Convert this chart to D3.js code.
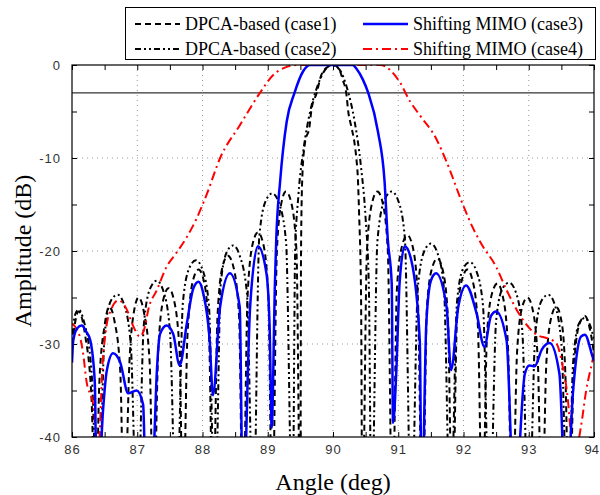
<!DOCTYPE html>
<html>
<head>
<meta charset="utf-8">
<script src="https://cdn.jsdelivr.net/npm/d3@7"></script>
<style>
  body { margin: 0; background: #fff; }
  .tick-label { font-family: "Liberation Sans", Arial, sans-serif; font-size: 13px; letter-spacing: 1px; fill: #333; }
  .legend-text { font-family: "Liberation Serif", "Times New Roman", serif; font-size: 18px; fill: #000; }
</style>
</head>
<body>
<div id="chart"></div>
<script>
// tick values
var angleTicks = [86, 87, 88, 89, 90, 91, 92, 93, 94];
var ampTicks = [0, -10, -20, -30, -40];

// DPCA-based (case1), [angle, dB]
var case1Pts = [
	[86.0,-30],[86.1,-26.5],[86.2,-29],[86.3,-36],[86.36,-50],
	[86.42,-34],[86.5,-28],[86.57,-26],[86.65,-27.5],[86.74,-33],[86.8,-50],
	[86.88,-32],[86.95,-26.5],[87.02,-25],[87.1,-26.5],[87.19,-32],[87.25,-50],
	[87.32,-31],[87.4,-25.2],[87.48,-24],[87.56,-25.2],[87.65,-31],[87.7,-50],
	[87.77,-29],[87.86,-23],[87.94,-22],[88.02,-23.2],[88.1,-29],[88.16,-50],
	[88.23,-27],[88.31,-21.6],[88.39,-20.5],[88.47,-21.6],[88.56,-27],[88.62,-50],
	[88.69,-25],[88.77,-19.2],[88.85,-18],[88.93,-19.2],[89.01,-25],[89.07,-50],
	[89.14,-20],[89.21,-14.8],[89.28,-13.6],[89.36,-14.8],[89.44,-20],[89.5,-50],
	[89.51,-20],[89.53,-12],[89.57,-8.4],[89.64,-6.6],[89.67,-4.8],[89.75,-3],[89.82,-1.1],[89.92,-0.2],[90.0,0],
	[90.08,-0.3],[90.15,-1.6],[90.21,-3.4],[90.23,-4.8],[90.28,-6.6],[90.33,-8.4],[90.36,-10.2],[90.38,-12],[90.4,-16],[90.43,-25],[90.45,-50],
	[90.52,-20],[90.6,-14.8],[90.68,-13.6],[90.76,-14.8],[90.84,-20],[90.91,-50],
	[90.98,-24],[91.06,-19.4],[91.14,-18.3],[91.22,-19.5],[91.3,-25],[91.37,-50],
	[91.44,-26],[91.52,-21.8],[91.6,-20.8],[91.68,-22],[91.76,-27],[91.83,-50],
	[91.9,-27.5],[91.98,-23],[92.06,-22],[92.14,-23.2],[92.22,-28],[92.29,-50],
	[92.36,-29],[92.44,-24.5],[92.52,-23.5],[92.6,-24.8],[92.68,-30],[92.75,-50],
	[92.82,-31],[92.9,-26],[92.98,-25],[93.06,-26.3],[93.14,-32],[93.2,-50],
	[93.27,-32],[93.35,-27],[93.42,-26],[93.5,-27.5],[93.56,-33],[93.62,-50],
	[93.69,-33],[93.77,-28],[93.86,-27],[93.94,-28.5],[94.0,-31]
];

// DPCA-based (case2)
var case2Pts = [
	[86.0,-29],[86.05,-26.8],[86.1,-26.3],[86.18,-27.5],[86.3,-33],[86.4,-50],
	[86.5,-29],[86.6,-25.3],[86.7,-24.7],[86.8,-25.8],[86.9,-30],[87.0,-50],
	[87.1,-28],[87.2,-24],[87.3,-23.2],[87.4,-24.3],[87.5,-28.5],[87.6,-50],
	[87.7,-25.5],[87.8,-21.8],[87.9,-21],[88.0,-22],[88.1,-26],[88.19,-50],
	[88.28,-23.5],[88.38,-20],[88.47,-19.4],[88.57,-20.5],[88.68,-24.5],[88.78,-50],
	[88.87,-18.5],[88.97,-14.6],[89.07,-13.8],[89.17,-14.8],[89.28,-19],[89.38,-50],
	[89.42,-20],[89.47,-14],[89.55,-9],[89.65,-5],[89.75,-2.5],[89.87,-0.6],[89.98,0],
	[90.1,-0.5],[90.22,-2.6],[90.33,-6],[90.43,-11],[90.5,-16.5],[90.55,-24],[90.59,-50],
	[90.68,-19],[90.79,-14.5],[90.9,-13.6],[91.0,-14.6],[91.1,-18.5],[91.2,-50],
	[91.3,-24],[91.4,-20],[91.5,-19.2],[91.6,-20.2],[91.7,-24],[91.8,-50],
	[91.9,-25.5],[92.0,-21.8],[92.1,-21.2],[92.2,-22.2],[92.3,-26],[92.4,-50],
	[92.5,-27.5],[92.6,-24],[92.7,-23.4],[92.8,-24.4],[92.9,-28.5],[93.0,-50],
	[93.1,-29],[93.2,-25.3],[93.3,-24.7],[93.4,-25.8],[93.5,-30],[93.6,-50],
	[93.68,-32],[93.77,-27.8],[93.86,-27.2],[93.94,-28],[94.0,-29.5]
];

// Shifting MIMO (case3)
var case3Pts = [
	[86.0,-32],[86.02,-29.6],[86.08,-28.3],[86.15,-28],[86.22,-28.7],[86.28,-29.6],[86.35,-34.2],[86.38,-48],
	[86.48,-36.7],[86.53,-33],[86.63,-31],[86.74,-32],[86.86,-35.3],[86.99,-35],[87.09,-36.5],[87.14,-48],
	[87.25,-42],[87.3,-33],[87.35,-28.9],[87.45,-28],[87.55,-28.9],[87.65,-32.3],
	[87.76,-27.8],[87.86,-24],[87.94,-23.3],[88.01,-24.5],[88.11,-29.6],[88.16,-35.5],
	[88.27,-26],[88.42,-22.4],[88.57,-26],[88.62,-48],
	[88.73,-26],[88.85,-19.5],[88.98,-22.4],[89.03,-28.5],[89.06,-39],
	[89.11,-23.5],[89.13,-18.8],[89.19,-12.5],[89.29,-6.1],[89.41,-3],[89.54,-0.7],[89.65,0],
	[90.0,0],[90.3,0],[90.36,-0.4],[90.46,-1.6],[90.54,-3],[90.69,-7.2],[90.79,-12.5],[90.84,-18.8],[90.9,-23.5],[90.92,-38.5],
	[90.97,-33],[91.02,-23.5],[91.1,-19.5],[91.2,-21],[91.33,-29.6],[91.36,-48],
	[91.43,-27.8],[91.5,-23.2],[91.58,-22.4],[91.74,-26],[91.81,-32.8],
	[91.92,-26],[92.04,-23.7],[92.2,-26.7],[92.32,-30.3],
	[92.42,-27],[92.5,-26.5],[92.66,-29.6],[92.78,-48],
	[92.94,-33.2],[93.01,-32.3],[93.09,-32.4],[93.2,-30.6],[93.32,-29.9],[93.47,-33.2],[93.57,-48],
	[93.68,-35],[93.8,-29.2],[93.86,-29],[93.98,-31.4],[94.0,-31.8]
];

// Shifting MIMO (case4)
var case4Pts = [
	[86.0,-27.8],[86.12,-29.2],[86.17,-31],[86.22,-33.9],[86.33,-36.7],[86.36,-39],[86.4,-42],
	[86.47,-32],[86.53,-28],[86.6,-26.3],[86.71,-25.3],[86.84,-26.3],[86.94,-28.1],[87.04,-29.2],
	[87.12,-28.1],[87.17,-26.3],[87.3,-24.2],[87.45,-21.7],[87.6,-20.2],[87.76,-18.5],
	[87.91,-16.5],[88.06,-14],[88.27,-10],[88.57,-6.5],[88.88,-3],[89.08,-1.1],[89.29,-0.2],[89.45,0],
	[90.0,0],[90.72,0],[91.02,-1.8],[91.18,-3.9],[91.33,-5.4],[91.58,-7.9],[91.74,-10.4],
	[91.99,-15],[92.15,-17.6],[92.27,-19.2],[92.5,-21.7],[92.66,-24.2],[92.91,-27.4],
	[93.12,-29],[93.29,-29.4],[93.42,-29.9],[93.52,-32.4],[93.6,-36],[93.65,-40],[93.7,-42],
	[93.8,-38.9],[93.88,-35],[93.98,-31.7],[94.0,-31]
];

var margin = {top: 65, right: 6, bottom: 58, left: 72},
		width = 600 - margin.left - margin.right,
		height = 495 - margin.top - margin.bottom;

var x = d3.scaleLinear().domain([86, 94]).range([0, width]);
var y = d3.scaleLinear().domain([-40, 0]).range([height, 0]);

var svg = d3.select("#chart").append("svg")
		.attr("width", 600)
		.attr("height", 495);

var g = svg.append("g")
		.attr("transform", "translate(" + margin.left + "," + margin.top + ")");

g.append("clipPath")
		.attr("id", "plot-clip")
	.append("rect")
		.attr("width", width)
		.attr("height", height);

// dotted grid at major ticks
g.append("g").selectAll("line")
		.data(angleTicks.slice(1, -1))
	.enter().append("line")
		.attr("x1", function(d) { return x(d); })
		.attr("x2", function(d) { return x(d); })
		.attr("y1", 0)
		.attr("y2", height)
		.attr("stroke", "#999")
		.attr("stroke-width", 1)
		.attr("stroke-dasharray", "1,4");

g.append("g").selectAll("line")
		.data(ampTicks.slice(1, -1))
	.enter().append("line")
		.attr("x1", 0)
		.attr("x2", width)
		.attr("y1", function(d) { return y(d); })
		.attr("y2", function(d) { return y(d); })
		.attr("stroke", "#999")
		.attr("stroke-width", 1)
		.attr("stroke-dasharray", "1,4");

// inward ticks on all four sides
var xMinor = d3.range(86, 94.01, 0.5);
var yMinor = d3.range(-40, 0.01, 5);

g.append("g")
		.attr("transform", "translate(0," + height + ")")
		.call(d3.axisBottom(x).tickValues(xMinor).tickSizeInner(-5).tickSizeOuter(0).tickFormat(""))
		.call(function(s) { s.select(".domain").remove(); });
g.append("g")
		.call(d3.axisTop(x).tickValues(xMinor).tickSizeInner(-5).tickSizeOuter(0).tickFormat(""))
		.call(function(s) { s.select(".domain").remove(); });
g.append("g")
		.call(d3.axisLeft(y).tickValues(yMinor).tickSizeInner(-5).tickSizeOuter(0).tickFormat(""))
		.call(function(s) { s.select(".domain").remove(); });
g.append("g")
		.attr("transform", "translate(" + width + ",0)")
		.call(d3.axisRight(y).tickValues(yMinor).tickSizeInner(-5).tickSizeOuter(0).tickFormat(""))
		.call(function(s) { s.select(".domain").remove(); });

// tick labels (the last one is kept inside the page edge)
var lastAngle = angleTicks[angleTicks.length - 1];
g.append("g").selectAll("text")
		.data(angleTicks)
	.enter().append("text")
		.attr("class", "tick-label")
		.attr("x", function(d) { return d === lastAngle ? width + margin.right - 1 : x(d) + 0.5; })
		.attr("y", height + 17)
		.attr("text-anchor", function(d) { return d === lastAngle ? "end" : "middle"; })
		.style("letter-spacing", function(d) { return d === lastAngle ? "0px" : null; })
		.text(function(d) { return d; });

g.append("g").selectAll("text")
		.data(ampTicks)
	.enter().append("text")
		.attr("class", "tick-label")
		.attr("x", -11)
		.attr("y", function(d) { return y(d) + 4.5; })
		.attr("text-anchor", "end")
		.text(function(d) { return d; });

// -3 dB reference
g.append("line")
		.attr("x1", 0)
		.attr("x2", width)
		.attr("y1", y(-3))
		.attr("y2", y(-3))
		.attr("stroke", "#000")
		.attr("stroke-width", 1);

var line = d3.line()
		.x(function(d) { return x(d[0]); })
		.y(function(d) { return y(d[1]); })
		.curve(d3.curveMonotoneX);

var curves = g.append("g").attr("clip-path", "url(#plot-clip)");

var seriesStyle = [
	{pts: case1Pts, color: "#000", width: 2, dash: "6,4"},
	{pts: case2Pts, color: "#000", width: 2, dash: "6,3,2,3,2,3"},
	{pts: case4Pts, color: "#f00", width: 2, dash: "9,4,2,4"},
	{pts: case3Pts, color: "#00f", width: 2.5, dash: null}
];

seriesStyle.forEach(function(s) {
	curves.append("path")
			.datum(s.pts)
			.attr("fill", "none")
			.attr("stroke", s.color)
			.attr("stroke-width", s.width)
			.attr("stroke-dasharray", s.dash)
			.attr("d", line);
});

// frame
g.append("rect")
		.attr("width", width)
		.attr("height", height)
		.attr("fill", "none")
		.attr("stroke", "#000")
		.attr("stroke-width", 1.2);

// axis titles
svg.append("text")
		.attr("transform", "translate(31," + (margin.top + height / 2) + ") rotate(-90)")
		.attr("text-anchor", "middle")
		.style("font-family", "'Liberation Serif', 'Times New Roman', serif")
		.style("font-size", "24px")
		.text("Amplitude (dB)");

svg.append("text")
		.attr("x", margin.left + x(90))
		.attr("y", 490)
		.attr("text-anchor", "middle")
		.style("font-family", "'Liberation Serif', 'Times New Roman', serif")
		.style("font-size", "24px")
		.text("Angle (deg)");

// legend
var legend = svg.append("g");
legend.append("rect")
		.attr("x", 125.5)
		.attr("y", 7.5)
		.attr("width", 470)
		.attr("height", 52)
		.attr("fill", "#fff")
		.attr("stroke", "#000")
		.attr("stroke-width", 1);

var legendItems = [
	{label: "DPCA-based (case1)", color: "#000", width: 2, dash: "6,4", lx: 135, ly: 24},
	{label: "DPCA-based (case2)", color: "#000", width: 2, dash: "6,3,2,3,2,3", lx: 135, ly: 49},
	{label: "Shifting MIMO (case3)", color: "#00f", width: 2.5, dash: null, lx: 363, ly: 24},
	{label: "Shifting MIMO (case4)", color: "#f00", width: 2, dash: "9,4,2,4", lx: 363, ly: 49}
];

legendItems.forEach(function(d) {
	legend.append("line")
			.attr("x1", d.lx)
			.attr("x2", d.lx + 45)
			.attr("y1", d.ly)
			.attr("y2", d.ly)
			.attr("stroke", d.color)
			.attr("stroke-width", d.width)
			.attr("stroke-dasharray", d.dash);
	legend.append("text")
			.attr("class", "legend-text")
			.attr("x", d.lx + 50)
			.attr("y", d.ly + 6)
			.text(d.label);
});
</script>
</body>
</html>
